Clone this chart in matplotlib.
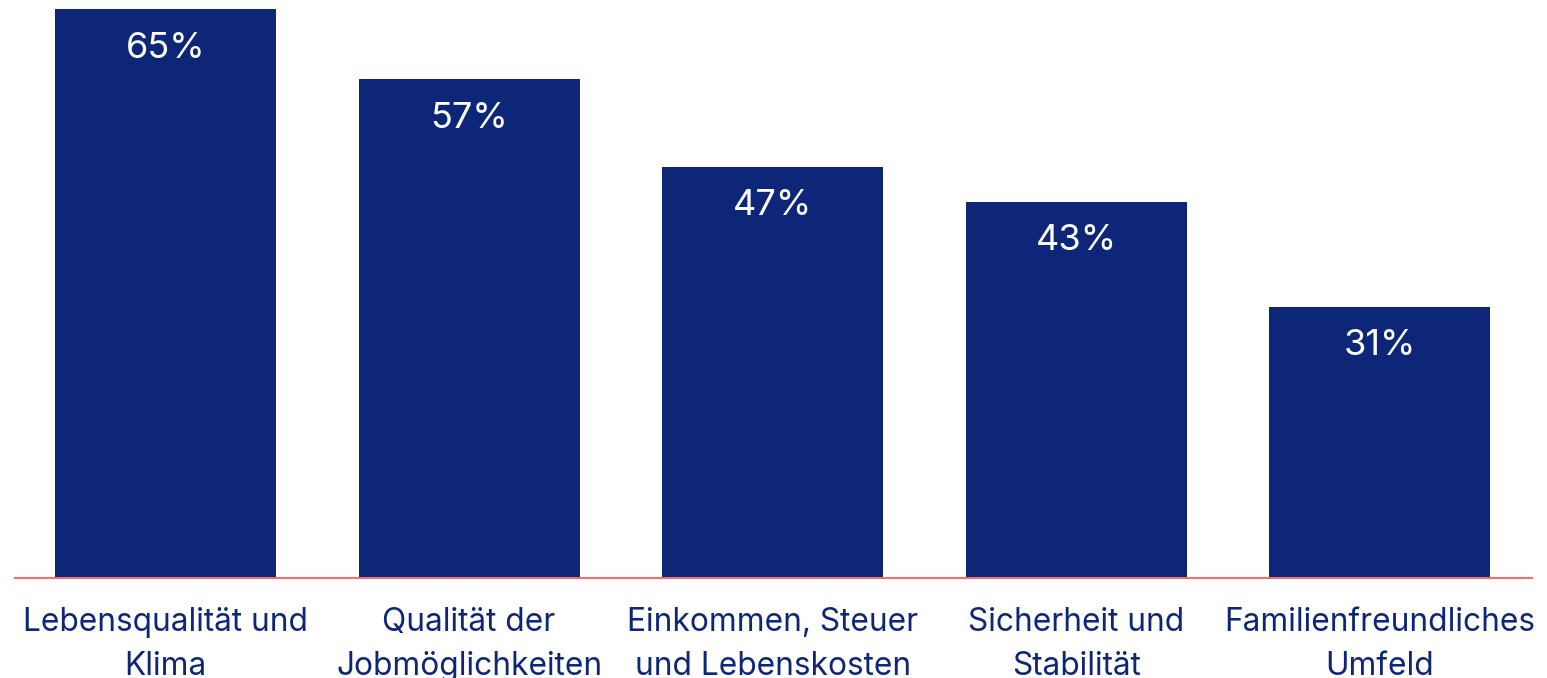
import matplotlib.pyplot as plt

categories = ["Lebensqualität und\nKlima", "Qualität der\nJobmöglichkeiten",
              "Einkommen, Steuer\nund Lebenskosten", "Sicherheit und\nStabilität",
              "Familienfreundliches\nUmfeld"]
values = [65, 57, 47, 43, 31]

navy = "#0d2677"
plt.rcParams["font.family"] = ["Inter", "DejaVu Sans"]

fig = plt.figure(figsize=(15.47, 6.78), dpi=100)
ax = fig.add_axes([15 / 1547, 100 / 678, 1517 / 1547, 569 / 678])
x = list(range(len(values)))
ax.bar(x, values, width=0.728, color=navy, zorder=2)
for xi, v in zip(x, values):
    ax.annotate(f"{v}%", (xi, v), xytext=(0, -39), textcoords="offset pixels",
                ha="center", va="center", color="white", fontsize=26)

ax.set_xlim(-0.4957, 4.5007)
ax.set_ylim(0, 65)
for s in ["top", "right", "left"]:
    ax.spines[s].set_visible(False)
ax.spines["bottom"].set_color("#f07070")
ax.spines["bottom"].set_linewidth(1.5)
ax.spines["bottom"].set_zorder(3)
ax.set_yticks([])
ax.set_xticks(x)
ax.set_xticklabels(categories, color=navy, fontsize=22.8, linespacing=1.55)
ax.tick_params(axis="x", length=0, pad=21)

fig.savefig("out.png", dpi=100)
